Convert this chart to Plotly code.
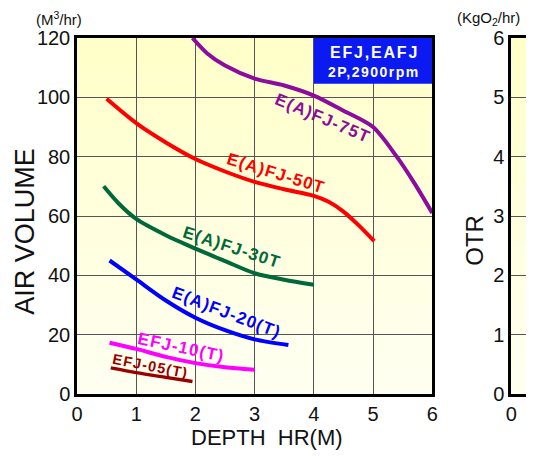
import plotly.graph_objects as go

# ---- data ----
depth_75 = [1.95, 2.2, 2.5, 3.0, 3.5, 4.0, 4.5, 5.0, 5.4, 5.7, 6.0]
air_75 = [120, 114.8, 110.7, 106.3, 104.0, 100.6, 95.5, 90.0, 80.0, 71.0, 61.0]

depth_50 = [0.5, 1.0, 1.5, 2.0, 2.5, 3.0, 3.5, 4.0, 4.25, 4.5, 4.75, 5.02]
air_50 = [99.5, 91.3, 84.8, 79.2, 75.0, 71.5, 69.0, 66.8, 64.8, 61.5, 57.0, 51.5]

depth_30 = [0.45, 0.7, 1.0, 1.5, 2.0, 2.5, 3.0, 3.5, 4.0]
air_30 = [70.0, 64.3, 59.0, 53.5, 49.0, 44.8, 40.7, 38.5, 36.8]

depth_20 = [0.55, 1.0, 1.5, 2.0, 2.5, 3.0, 3.57]
air_20 = [45.0, 38.6, 31.5, 25.7, 21.5, 18.4, 16.5]

depth_10 = [0.55, 1.0, 1.5, 2.0, 2.5, 3.0]
air_10 = [17.3, 15.2, 12.5, 10.4, 9.0, 8.2]

depth_05 = [0.57, 1.0, 1.5, 1.95]
air_05 = [8.8, 7.2, 5.6, 4.2]

series_names = ["E(A)FJ-75T", "E(A)FJ-50T", "E(A)FJ-30T", "E(A)FJ-20(T)", "EFJ-10(T)", "EFJ-05(T)"]
series_colors = ["#8B0C9E", "#FF0000", "#00693A", "#0000FF", "#FF00FF", "#990000"]

x_ticks = [0, 1, 2, 3, 4, 5, 6]
y_ticks = [0, 20, 40, 60, 80, 100, 120]
otr_ticks = [0, 1, 2, 3, 4, 5, 6]

FONT = "Liberation Sans"
OFF = 8  # page body margin offset in the screenshot

fig = go.Figure()
series = [(depth_75, air_75, 4), (depth_50, air_50, 4), (depth_30, air_30, 4),
          (depth_20, air_20, 4), (depth_10, air_10, 4), (depth_05, air_05, 3.5)]
for (xs, ys, w), name, col in zip(series, series_names, series_colors):
    fig.add_trace(go.Scatter(x=xs, y=ys, mode="lines", name=name,
                             line=dict(color=col, width=w, shape="spline", smoothing=0.8),
                             showlegend=False, xaxis="x", yaxis="y"))

# invisible trace for second (OTR) subplot
fig.add_trace(go.Scatter(x=[0], y=[0], mode="markers", marker=dict(opacity=0),
                         showlegend=False, xaxis="x2", yaxis="y2", hoverinfo="skip"))


def spaced(txt, sp):
    return '<span style="letter-spacing:%spx">%s</span>' % (sp, txt)


# curve labels (x, y, angle, size)
label_pos = [(4.16, 93.0, 23, 17), (3.36, 74.3, 17, 17), (2.62, 49.5, 18, 17),
             (2.52, 27.6, 21, 17), (1.76, 15.6, 12, 17), (1.24, 9.4, 11, 14.5)]
annotations = []
for (lx, ly, ang, sz), name, col in zip(label_pos, series_names, series_colors):
    annotations.append(dict(x=lx, y=ly, xref="x", yref="y",
                            text=spaced("<b>" + name + "</b>", 1.2),
                            showarrow=False, textangle=ang,
                            font=dict(family=FONT, size=sz, color=col)))

# blue info box texts
annotations += [
    dict(x=5.02, y=115.0, xref="x", yref="y", text=spaced("<b>EFJ,EAFJ</b>", 1.8), showarrow=False,
         font=dict(family=FONT, size=16, color="white")),
    dict(x=5.02, y=108.6, xref="x", yref="y", text=spaced("<b>2P,2900rpm</b>", 1.5), showarrow=False,
         font=dict(family=FONT, size=14, color="white")),
]
# pixel-placed texts (screenshot coordinates)
pix_ann = [
    dict(x=24, y=231, text="AIR VOLUME", textangle=-90, size=27),
    dict(x=270, y=437, text="DEPTH  HR(M)", size=22),
    dict(x=59, y=18, text="(M<sup>3</sup>/hr)", size=15),
    dict(x=494, y=18, text="(KgO<sub>2</sub>/hr)", size=15),
    dict(x=480, y=240, text="OTR", textangle=-90, size=24),
]

W, H = 526, 448
L, R, T, B = 69, 0, 30, 62
pw, ph = W - L - R, H - T - B
for p in pix_ann:
    annotations.append(dict(
        x=(p["x"] - OFF - L) / pw, y=(H - B - (p["y"] - OFF)) / ph,
        xref="paper", yref="paper", xanchor="center", yanchor="middle",
        text=p["text"], textangle=p.get("textangle", 0), showarrow=False,
        font=dict(family=FONT, size=p["size"], color="#111")))

# subtle vertical yellow gradient background (below gridlines)
shapes = []
nb = 12
top_col = (255, 255, 200)
bot_col = (255, 255, 242)
for i in range(nb):
    t = (i + 0.5) / nb
    c = tuple(int(round(bot_col[k] + (top_col[k] - bot_col[k]) * t)) for k in range(3))
    col = "rgb(%d,%d,%d)" % c
    shapes.append(dict(type="rect", xref="x", yref="y", x0=0, x1=6,
                       y0=120 * i / nb, y1=120 * (i + 1) / nb,
                       fillcolor=col, line=dict(width=0), layer="below"))
    shapes.append(dict(type="rect", xref="x2", yref="y2", x0=0, x1=17 / 60,
                       y0=6 * i / nb, y1=6 * (i + 1) / nb,
                       fillcolor=col, line=dict(width=0), layer="below"))
shapes.append(dict(type="rect", xref="x", yref="y", x0=4.0, x1=6.0, y0=104.6, y1=120,
                   fillcolor="#0A1AF0", line=dict(width=0), layer="above"))

fig.update_layout(
    width=W, height=H,
    margin=dict(l=L, r=R, t=T, b=B),
    paper_bgcolor="white",
    plot_bgcolor="#FFFFE6",
    font=dict(family=FONT, size=20, color="#111"),
    annotations=annotations,
    shapes=shapes,
    xaxis=dict(domain=[0, 360 / pw], range=[0, 6], tickvals=x_ticks,
               showgrid=True, gridcolor="#555", gridwidth=1.2, zeroline=False,
               showline=True, linecolor="black", linewidth=2.5, mirror=True,
               ticks="", tickfont=dict(size=20), anchor="y"),
    yaxis=dict(range=[0, 120], tickvals=y_ticks,
               showgrid=True, gridcolor="#555", gridwidth=1.2, zeroline=False,
               showline=True, linecolor="black", linewidth=2.5, mirror=True,
               ticks="", tickfont=dict(size=20), anchor="x"),
    xaxis2=dict(domain=[440 / pw, 1], range=[0, 17 / 60], tickvals=[0],
                showgrid=False, zeroline=False,
                showline=True, linecolor="black", linewidth=2.5, mirror=True,
                ticks="", tickfont=dict(size=20), anchor="y2"),
    yaxis2=dict(range=[0, 6], tickvals=otr_ticks,
                showgrid=True, gridcolor="#555", gridwidth=1.2, zeroline=False,
                showline=True, linecolor="black", linewidth=2.5, mirror=False,
                ticks="", tickfont=dict(size=20), anchor="x2"),
)

fig.write_html("out.html")
